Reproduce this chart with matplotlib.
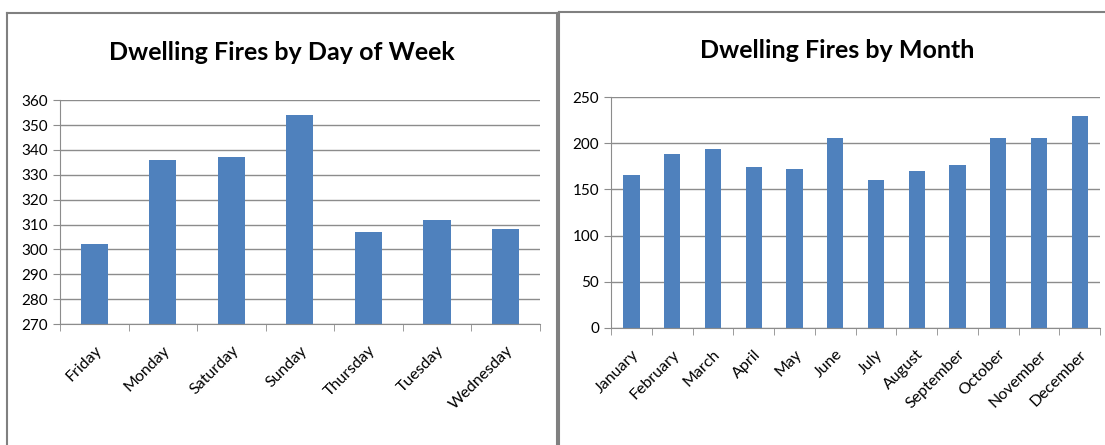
import matplotlib
matplotlib.use("Agg")
from matplotlib import pyplot as plt
from matplotlib.lines import Line2D
import numpy as np

days = ['Friday', 'Monday', 'Saturday', 'Sunday', 'Thursday', 'Tuesday', 'Wednesday']
day_fires = [302, 336, 337, 354, 307, 312, 308]

months = ['January', 'February', 'March', 'April', 'May', 'June', 'July',
          'August', 'September', 'October', 'November', 'December']
month_fires = [166, 188, 194, 174, 172, 206, 160, 170, 176, 206, 206, 229]

bar_color = '#4f81bd'
grid_color = '#8c8c8c'
plt.rcParams['font.family'] = ['Lato', 'DejaVu Sans']

fig = plt.figure(figsize=(11.05, 4.45), dpi=100)

# panel borders
for xs, ys in [([0.0065, 0.0065], [0.0, 0.971]), ([0.0065, 0.504], [0.971, 0.971]),
               ([0.504, 0.504], [0.0, 0.971]), ([0.506, 0.506], [0.0, 0.973]),
               ([0.506, 1.0], [0.973, 0.973])]:
    fig.add_artist(Line2D(xs, ys, color='#808080', lw=1.5))


def style(ax, labels, ylim, step):
    x = np.arange(len(labels))
    ax.set_xlim(-0.5, len(labels) - 0.5)
    ax.set_ylim(*ylim)
    ax.set_yticks(np.arange(ylim[0], ylim[1] + 1, step))
    ax.yaxis.grid(True, color=grid_color, lw=1)
    ax.set_axisbelow(True)
    for s in ['top', 'right']:
        ax.spines[s].set_visible(False)
    ax.spines['left'].set_color(grid_color)
    ax.spines['bottom'].set_color(grid_color)
    ax.set_xticks(x)
    ax.set_xticklabels(labels, rotation=45, ha='right', rotation_mode='anchor',
                       fontsize=11.5)
    ax.tick_params(axis='x', length=0, pad=14)
    ax.set_xticks(np.arange(-0.5, len(labels)), minor=True)
    ax.tick_params(axis='x', which='minor', length=5, color=grid_color)
    ax.tick_params(axis='y', length=5, color=grid_color, labelsize=11)


ax1 = fig.add_axes([0.0543, 0.2719, 0.434, 0.503])
ax1.bar(np.arange(len(days)), day_fires, width=0.4, color=bar_color, bottom=0)
style(ax1, days, (270, 360), 10)
fig.text(282 / 1105, 1 - 52 / 445, 'Dwelling Fires by Day of Week', fontsize=18,
         fontweight='bold', ha='center', va='center')

ax2 = fig.add_axes([0.553, 0.263, 0.4425, 0.519])
ax2.bar(np.arange(len(months)), month_fires, width=0.4, color=bar_color)
style(ax2, months, (0, 250), 50)
fig.text(837 / 1105, 1 - 50 / 445, 'Dwelling Fires by Month', fontsize=18,
         fontweight='bold', ha='center', va='center')

fig.savefig('out.png', dpi=100)
